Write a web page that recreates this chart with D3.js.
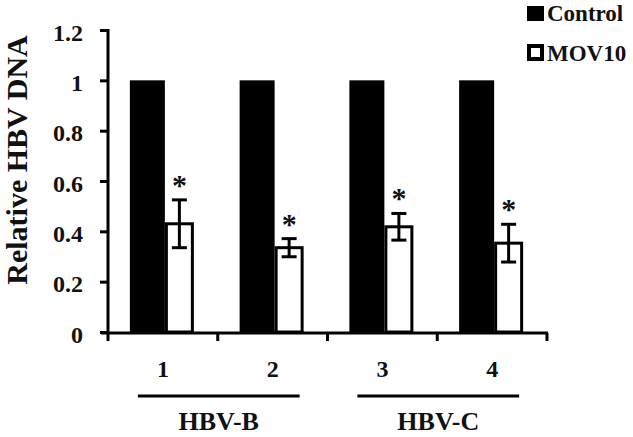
<!DOCTYPE html>
<html>
<head>
<meta charset="utf-8">
<title>Relative HBV DNA</title>
<style>
  body { margin: 0; background: #fff; }
</style>
</head>
<body>
<svg width="633" height="437"></svg>
<script src="https://d3js.org/d3.v7.min.js"></script>
<script>
// data
var groups = ["1", "2", "3", "4"];
var series = ["Control", "MOV10"];
var controlValues = [1, 1, 1, 1];
var mov10Values = [0.43, 0.335, 0.418, 0.353];
var mov10Errors = [0.095, 0.036, 0.053, 0.075];
var yTicks = [0, 0.2, 0.4, 0.6, 0.8, 1, 1.2];
var strainNames = ["HBV-B", "HBV-C"];
var strainGroups = [["1", "2"], ["3", "4"]];

var FONT = "'Liberation Serif'";

// bold serif text helper
function serif(sel, size) {
  return sel.style("font-family", FONT)
    .style("font-weight", "bold")
    .style("font-size", size + "px")
    .style("fill", "#111");
}

var svg = d3.select("svg");

var x = d3.scaleBand().domain(groups).range([108, 547]);
var y = d3.scaleLinear().domain([0, 1.2]).range([332, 30]);
// position of each series inside a group, relative to the group center
var xs = d3.scaleBand().domain(series).range([-33, 31]);
var bw = xs.bandwidth();

function center(g) { return x(g) + x.bandwidth() / 2; }

// control bars
svg.append("g").selectAll("rect")
  .data(controlValues)
  .enter().append("rect")
    .attr("x", function(d, i) { return center(groups[i]) + xs("Control"); })
    .attr("y", function(d) { return y(d); })
    .attr("width", bw + 3)
    .attr("height", function(d) { return y(0) - y(d); })
    .attr("fill", "#000");

// MOV10 bars (white with thick outline)
svg.append("g").selectAll("rect")
  .data(mov10Values)
  .enter().append("rect")
    .attr("x", function(d, i) { return center(groups[i]) + xs("MOV10") + 4.5; })
    .attr("y", function(d) { return y(d); })
    .attr("width", bw - 6)
    .attr("height", function(d) { return y(0) - y(d); })
    .attr("fill", "#fff")
    .attr("stroke", "#000")
    .attr("stroke-width", 3);

// error bars + asterisks
var err = svg.append("g").attr("stroke", "#000").attr("stroke-width", 3);
mov10Values.forEach(function(v, i) {
  var cx = center(groups[i]) + xs("MOV10") + bw / 2 + 1.5;
  var top = y(v + mov10Errors[i]), bot = y(v - mov10Errors[i]);
  err.append("line").attr("x1", cx).attr("x2", cx).attr("y1", top).attr("y2", bot);
  err.append("line").attr("x1", cx - 7.5).attr("x2", cx + 7.5).attr("y1", top).attr("y2", top);
  err.append("line").attr("x1", cx - 7.5).attr("x2", cx + 7.5).attr("y1", bot).attr("y2", bot);
  serif(svg.append("text"), 30)
    .attr("x", cx)
    .attr("y", top - 5)
    .attr("text-anchor", "middle")
    .text("*");
});

// y axis
var yAxis = svg.append("g")
  .attr("transform", "translate(108,0)")
  .call(d3.axisLeft(y).tickValues(yTicks).tickSize(8).tickSizeOuter(0)
    .tickPadding(17).tickFormat(function(d) { return String(d); }));
yAxis.selectAll("path, line").attr("stroke", "#000").attr("stroke-width", 3);
yAxis.select(".domain").attr("d", "M0,334V29");
serif(yAxis.selectAll("text"), 24).attr("dy", "0.42em");

// x axis: line, ticks on the band edges, labels at the centers
var xAxis = svg.append("g").attr("transform", "translate(0,333)");
xAxis.append("line")
  .attr("x1", 101).attr("x2", 548).attr("y1", 0).attr("y2", 0)
  .attr("stroke", "#000").attr("stroke-width", 3);
xAxis.selectAll(".edge")
  .data(groups.concat(["end"]))
  .enter().append("line")
    .attr("class", "edge")
    .attr("x1", function(d) { return d === "end" ? x.range()[1] : x(d); })
    .attr("x2", function(d) { return d === "end" ? x.range()[1] : x(d); })
    .attr("y1", 0).attr("y2", 8)
    .attr("stroke", "#000").attr("stroke-width", 3);
var xLabels = svg.append("g")
  .attr("transform", "translate(0,333)")
  .call(d3.axisBottom(x).tickSize(0).tickPadding(27));
xLabels.select(".domain").remove();
serif(xLabels.selectAll("text"), 24);

// strain brackets
strainNames.forEach(function(name, i) {
  var x0 = center(strainGroups[i][0]) - 25;
  var x1 = center(strainGroups[i][1]) + 27;
  svg.append("line")
    .attr("x1", x0).attr("x2", x1).attr("y1", 396).attr("y2", 396)
    .attr("stroke", "#000").attr("stroke-width", 3);
  serif(svg.append("text"), 26)
    .attr("x", (x0 + x1) / 2)
    .attr("y", 430)
    .attr("text-anchor", "middle")
    .text(name);
});

// y title
serif(svg.append("text"), 30)
  .attr("transform", "translate(27,160) rotate(-90)")
  .attr("text-anchor", "middle")
  .text("Relative HBV DNA");

// legend
var legend = svg.append("g").selectAll("g")
  .data(series)
  .enter().append("g")
    .attr("transform", function(d, i) { return "translate(527," + (2 + i * 40) + ")"; });
legend.append("rect")
  .attr("x", function(d, i) { return i ? 2 : 0; })
  .attr("y", 4)
  .attr("width", function(d, i) { return i ? 13 : 17; })
  .attr("height", function(d, i) { return i ? 13 : 15; })
  .attr("fill", function(d, i) { return i ? "#fff" : "#000"; })
  .attr("stroke", "#000")
  .attr("stroke-width", function(d, i) { return i ? 4 : 0; });
serif(legend.append("text"), 23)
  .attr("x", 20)
  .attr("y", 19)
  .text(function(d) { return d; });
</script>
</body>
</html>
